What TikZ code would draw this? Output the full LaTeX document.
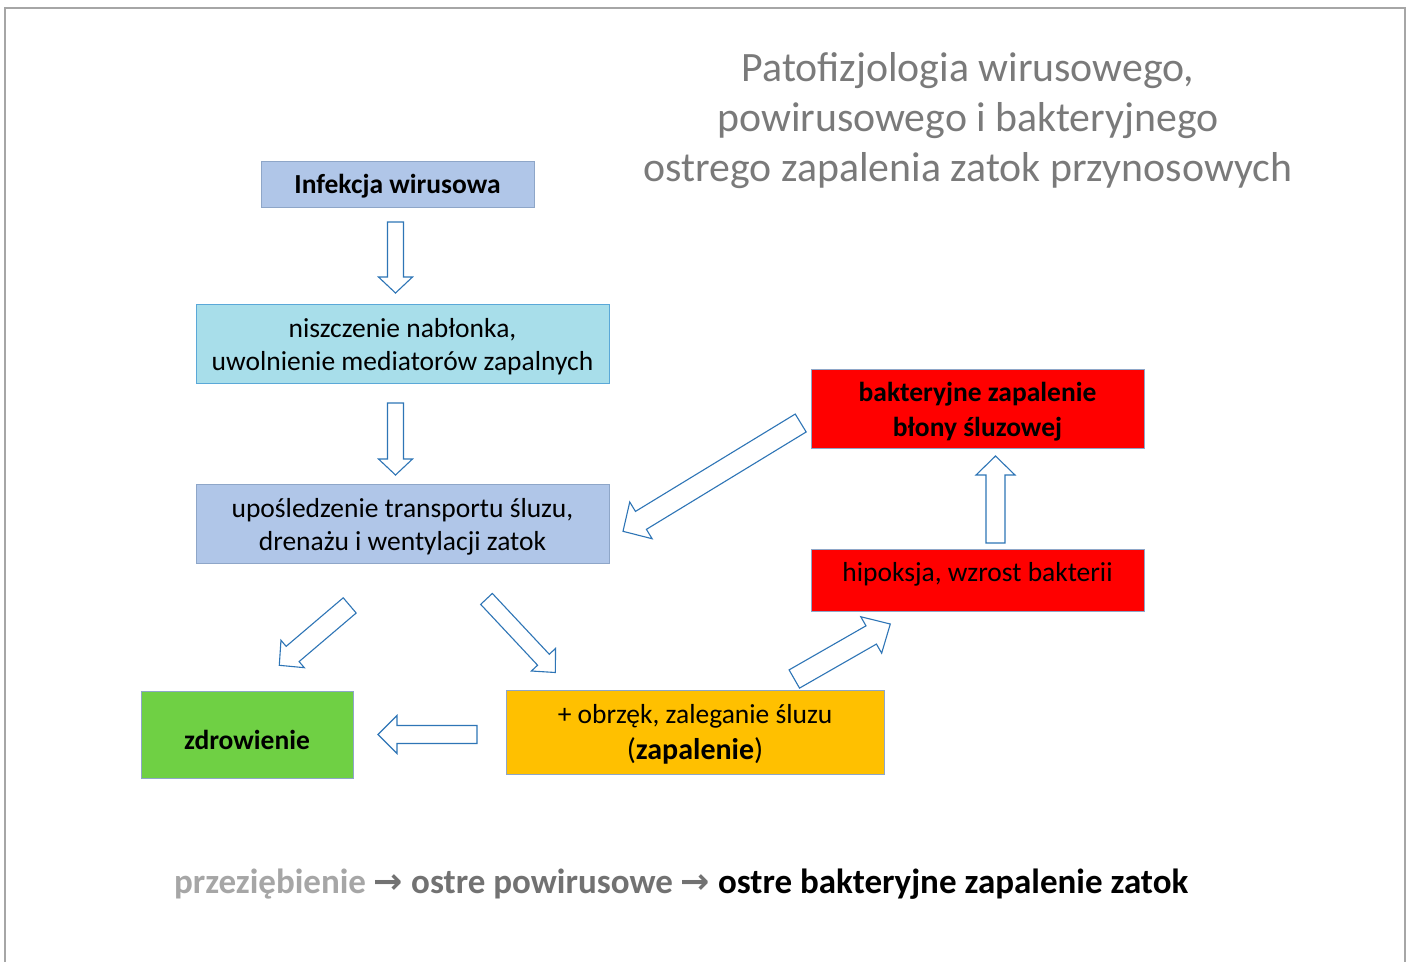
\documentclass[tikz,border=0pt]{standalone}
\usepackage{fontspec}
\setmainfont{Carlito}
\newfontfamily\symfont{DejaVu Sans}
\usetikzlibrary{calc}
\definecolor{boxblue}{HTML}{B0C6E8}
\definecolor{boxcyan}{HTML}{A8DEEA}
\definecolor{cyanedge}{HTML}{5AA8D8}
\definecolor{boxedge}{HTML}{8EA6C8}
\definecolor{boxred}{HTML}{FF0000}
\definecolor{boxgreen}{HTML}{6FD044}
\definecolor{boxorange}{HTML}{FFC000}
\definecolor{arrowedge}{HTML}{2E75B6}
\definecolor{titlegray}{HTML}{7A7A7A}
\definecolor{lightgraytxt}{HTML}{A6A6A6}
\definecolor{darkgraytxt}{HTML}{727272}
\definecolor{framegray}{HTML}{A6A6A6}
\newcommand\topstrut[1]{\rule{0pt}{#1}}
\newcommand\blockarrow[5]{% tail, tip, half shaft, half head, head length
  \coordinate (ba-b) at ($(#2)!#5!(#1)$);
  \draw[barrow] ($(#1)!#3!90:(#2)$) -- ($(ba-b)!#3!-90:(#1)$) -- ($(ba-b)!#4!-90:(#1)$) -- (#2)
    -- ($(ba-b)!#4!90:(#1)$) -- ($(ba-b)!#3!90:(#1)$) -- ($(#1)!#3!-90:(#2)$) -- cycle;
}
\tikzset{
  box/.style={draw=boxedge, line width=1pt, inner sep=0pt, align=center,
    font=\fontsize{27.5pt}{33pt}\selectfont},
  barrow/.style={draw=arrowedge, fill=white, line width=1.1pt, line join=miter},
}
\begin{document}
\begin{tikzpicture}[x=1pt,y=-1pt]
\useasboundingbox (0,0) rectangle (1409,962);
\fill[white] (0,0) rectangle (1409,962);
\draw[framegray, line width=1.6pt] (5,962) -- (5,8) -- (1405,8) -- (1405,962);

% title
\node[align=center, text=titlegray, font=\fontsize{41.8pt}{50pt}\selectfont, inner sep=0pt] (title) at (968,121)
  {Patofizjologia wirusowego,\\powirusowego i bakteryjnego\\ostrego zapalenia zatok przynosowych};

% boxes
\node[box, fill=boxblue, minimum width=273pt, minimum height=46pt, font=\fontsize{27.5pt}{33pt}\selectfont\bfseries] (inf) at (397.5,184) {\topstrut{24.5pt}Infekcja wirusowa};
\node[box, fill=boxcyan, draw=cyanedge, minimum width=413pt, minimum height=79pt] (nisz) at (402.5,343.5)
  {\topstrut{25.3pt}niszczenie nabłonka,\\uwolnienie mediatorów zapalnych};
\node[box, fill=boxblue, minimum width=413pt, minimum height=79pt] (upos) at (402.5,523.5)
  {\topstrut{25.3pt}upośledzenie transportu śluzu,\\drenażu i wentylacji zatok};
\node[box, fill=boxred, minimum width=333pt, minimum height=79pt, font=\fontsize{27.5pt}{35pt}\selectfont\bfseries] (bakt) at (977.5,408.5)
  {\topstrut{25.3pt}bakteryjne zapalenie\\błony śluzowej};
\node[box, fill=boxred, minimum width=333pt, minimum height=62pt, text height=19pt, text depth=17pt] (hipo) at (977.5,580)
  {hipoksja, wzrost bakterii};
\node[box, fill=boxgreen, minimum width=212pt, minimum height=87pt, font=\fontsize{27.5pt}{33pt}\selectfont\bfseries] (zdr) at (247,734.5)
  {\topstrut{29.5pt}zdrowienie};
\node[box, fill=boxorange, minimum width=378pt, minimum height=84pt] (obrz) at (695,732)
  {\topstrut{23.3pt}+ obrzęk, zaleganie śluzu\\[3pt]{\fontsize{30pt}{35pt}\selectfont(\textbf{zapalenie})}};

% arrow end points
\coordinate (a1t) at (395.5,222);   \coordinate (a1h) at (395.5,293);
\coordinate (a2t) at (395.5,403);   \coordinate (a2h) at (395.5,475);
\coordinate (a3t) at (800.7,423);   \coordinate (a3h) at (623,531.3);
\coordinate (a4t) at (995.5,543);   \coordinate (a4h) at (995.5,456);
\coordinate (a5t) at (477,734.5);   \coordinate (a5h) at (378,734.5);
\coordinate (a6t) at (349.7,605.4); \coordinate (a6h) at (279.3,665.3);
\coordinate (a7t) at (486.5,598.9); \coordinate (a7h) at (555.4,672.5);
\coordinate (a8t) at (794.3,679);   \coordinate (a8h) at (890.3,624);

\blockarrow{a1t}{a1h}{8pt}{17pt}{16pt}
\blockarrow{a2t}{a2h}{8pt}{17pt}{16pt}
\blockarrow{a3t}{a3h}{10.5pt}{21.5pt}{21pt}
\blockarrow{a4t}{a4h}{9.5pt}{19.5pt}{19pt}
\blockarrow{a5t}{a5h}{9pt}{19pt}{19pt}
\blockarrow{a6t}{a6h}{10pt}{18pt}{17.5pt}
\blockarrow{a7t}{a7h}{8pt}{16.5pt}{17.5pt}
\blockarrow{a8t}{a8h}{10.5pt}{21pt}{22pt}

% bottom line
\node[anchor=base west, inner sep=0pt, font=\fontsize{35pt}{40pt}\selectfont\bfseries] (bottom) at (174,893)
  {\color{lightgraytxt}przeziębienie \color{darkgraytxt}{\symfont\bfseries →} ostre powirusowe {\symfont\bfseries →} \color{black}ostre bakteryjne zapalenie zatok};
\end{tikzpicture}
\end{document}
